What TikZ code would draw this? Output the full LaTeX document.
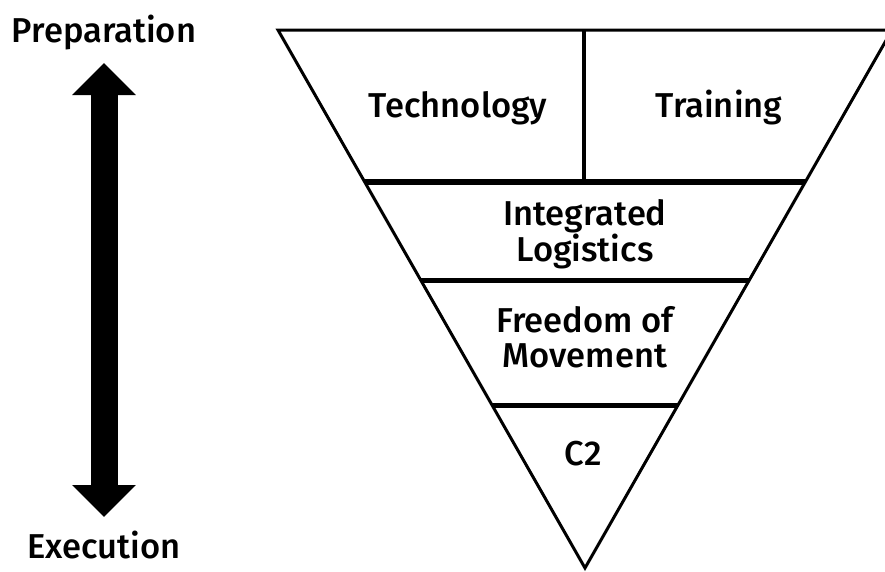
\documentclass[tikz,border=0pt]{standalone}
\usepackage{fontspec}
\setmainfont{Fira Sans}[UprightFont=* Medium]
\usetikzlibrary{arrows.meta,calc}
\begin{document}
\begin{tikzpicture}[x=1pt,y=-1pt,
  label/.style={font=\fontsize{34.5}{35}\selectfont, align=center, inner sep=0pt},
  outline/.style={line width=3pt, line join=miter},
  divider/.style={line width=5pt},
  split/.style={line width=4pt}]
\useasboundingbox (0,0) rectangle (885,571);

% inverted triangle
\coordinate (tl) at (278,30);
\coordinate (tr) at (892,30);
\coordinate (apex) at (585,568);
\draw[outline] (tl) -- (tr) -- (apex) -- cycle;

% horizontal bands
\foreach \yy/\nm in {182/a,280/b,405/c}{
  \coordinate (\nm L) at ($(tl)!{(\yy-30)/538}!(apex)$);
  \coordinate (\nm R) at ($(tr)!{(\yy-30)/538}!(apex)$);
  \draw[divider] (\nm L) -- (\nm R);
}
% vertical split of the top band
\coordinate (splitTop) at (584,30);
\coordinate (splitBot) at (584,182);
\draw[split] (splitTop) -- (splitBot);

% band labels
\node[label] (tech) at (458,108) {Technology};
\node[label] (train) at (719,108) {Training};
\node[label] (logi) at (585,234) {Integrated\\Logistics};
\node[label] (free) at (585,337) {Freedom of\\Movement};
\node[label] (c2) at (583,454) {C2};

% side axis
\node[label] (prep) at (104,33) {Preparation};
\node[label] (exec) at (104,545) {Execution};
\coordinate (upTip) at (104,63);
\coordinate (downTip) at (104,517);
\draw[line width=27pt, {Triangle[width=62pt,length=32pt]}-{Triangle[width=62pt,length=32pt]}] (upTip) -- (downTip);
\end{tikzpicture}
\end{document}
